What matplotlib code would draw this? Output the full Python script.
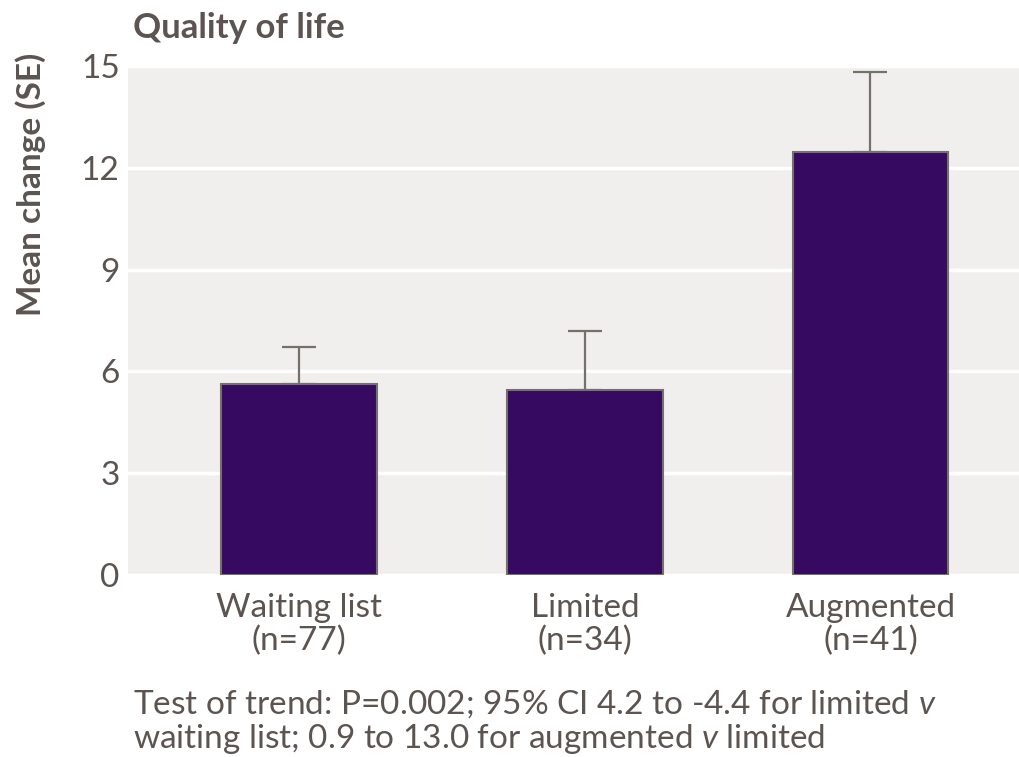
import matplotlib
matplotlib.use("Agg")
import matplotlib.pyplot as plt

categories = ["Waiting list\n(n=77)", "Limited\n(n=34)", "Augmented\n(n=41)"]
means = [5.63, 5.45, 12.47]
se = [1.09, 1.74, 2.35]
yticks = [0, 3, 6, 9, 12, 15]

plt.rcParams["font.family"] = ["Lato", "DejaVu Sans"]
plt.rcParams["mathtext.fontset"] = "custom"
plt.rcParams["mathtext.it"] = "Lato:italic"

txt = "#5b5451"
bar_c = "#350a60"
edge_c = "#76706c"
bg = "#f0efed"

fig = plt.figure(figsize=(10.19, 7.57), dpi=100)
ax = fig.add_axes([0.1256, 0.2404, 0.8744, 0.6724])
ax.set_facecolor(bg)
x = list(range(len(categories)))
ax.bar(x, means, width=0.546, color=bar_c, edgecolor=edge_c, linewidth=1.5, zorder=3)
ax.errorbar(x, means, yerr=[[0]*3, se], fmt="none", ecolor=edge_c, elinewidth=1.6,
            capsize=12.5, capthick=1.6, zorder=2)
ax.set_ylim(0, 15)
ax.set_xlim(-0.6, 2.52)
ax.set_yticks(yticks)
ax.set_xticks(x)
ax.set_xticklabels(categories, fontsize=24, color=txt, linespacing=1.12)
ax.tick_params(axis="y", labelsize=24, labelcolor=txt, length=0, pad=6)
ax.tick_params(axis="x", length=0, pad=13)
for s in ax.spines.values():
    s.set_visible(False)
ax.grid(axis="y", color="white", linewidth=2.5, zorder=1)
ax.set_axisbelow(True)

fig.text(0.1305, 0.963, "Quality of life", fontsize=25, fontweight="bold", color=txt,
         ha="left", va="center")
fig.text(0.030, 0.757, "Mean change (SE)", fontsize=24, fontweight="bold", color=txt,
         rotation=90, ha="center", va="center")
fig.text(0.1305, 0.046, "Test of trend: P=0.002; 95% CI 4.2 to -4.4 for limited $\\mathit{v}$\n"
         "waiting list; 0.9 to 13.0 for augmented $\\mathit{v}$ limited",
         fontsize=24, color=txt, ha="left", va="center", linespacing=1.05)

fig.savefig("out.png", dpi=100, facecolor="white")
